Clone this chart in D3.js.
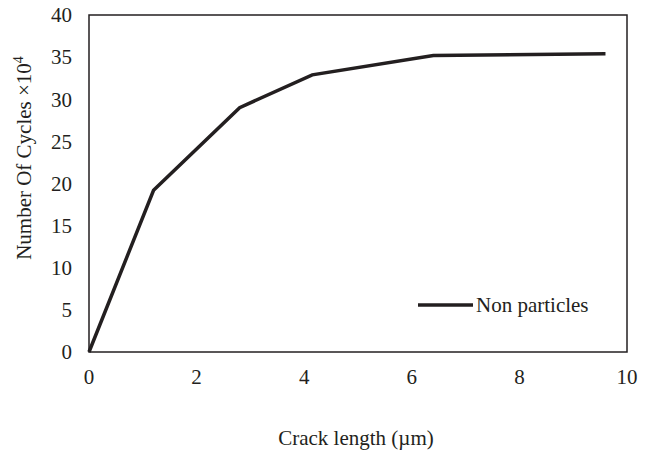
<!DOCTYPE html>
<html>
<head>
<meta charset="utf-8">
<script src="https://cdn.jsdelivr.net/npm/d3@7"></script>
<style>
  body { margin: 0; background: #fff; }
  svg { display: block; }
  text { font-family: "Liberation Serif", "Times New Roman", serif; fill: #231f20; }
</style>
</head>
<body>
<svg id="chart" width="654" height="452"></svg>
<script>
const crackLength = [0, 1.2, 2.8, 4.15, 6.4, 9.6];
const cycles = [0, 19.2, 29.0, 32.9, 35.2, 35.4];
const xTicks = [0, 2, 4, 6, 8, 10];
const yTicks = [0, 5, 10, 15, 20, 25, 30, 35, 40];
const seriesName = "Non particles";
const xTitle = "Crack length (\u00b5m)";
const yTitle = "Number Of Cycles \u00d710";

const svg = d3.select("#chart");
const L = 89, R = 627, T = 15, B = 352;
const FS = 21;
const x = d3.scaleLinear().domain([0, 10]).range([L, R]);
const y = d3.scaleLinear().domain([0, 40]).range([B, T]);
const ink = "#231f20";

// plot box
svg.append("rect").attr("x", L).attr("y", T).attr("width", R - L).attr("height", B - T)
  .attr("fill", "none").attr("stroke", ink).attr("stroke-width", 1.5);

// x tick labels
svg.append("g").selectAll("text").data(xTicks).join("text")
  .attr("x", d => x(d)).attr("y", 377).attr("dy", "0.35em")
  .attr("text-anchor", "middle").attr("font-size", FS).text(d => d);

// y tick labels
svg.append("g").selectAll("text").data(yTicks).join("text")
  .attr("x", 72).attr("y", d => y(d)).attr("dy", "0.35em")
  .attr("text-anchor", "end").attr("font-size", FS).text(d => d);

// line
const line = d3.line().x((d, i) => x(crackLength[i])).y(d => y(d));
svg.append("path").datum(cycles).attr("d", line)
  .attr("fill", "none").attr("stroke", ink).attr("stroke-width", 3.5)
  .attr("stroke-linejoin", "miter");

// legend
svg.append("line").attr("x1", 418).attr("x2", 473).attr("y1", 305).attr("y2", 305)
  .attr("stroke", ink).attr("stroke-width", 3.5);
svg.append("text").attr("x", 476).attr("y", 305).attr("dy", "0.35em")
  .attr("font-size", FS).text(seriesName);

// axis titles
svg.append("text").attr("x", 356).attr("y", 438).attr("dy", "0.35em")
  .attr("text-anchor", "middle").attr("font-size", FS).text(xTitle);

const yt = svg.append("text").attr("transform", `translate(24, 158) rotate(-90)`)
  .attr("dy", "0.35em").attr("text-anchor", "middle").attr("font-size", FS);
yt.append("tspan").text(yTitle);
yt.append("tspan").attr("font-size", 14).attr("dy", "-0.6em").text("4");
</script>
</body>
</html>
